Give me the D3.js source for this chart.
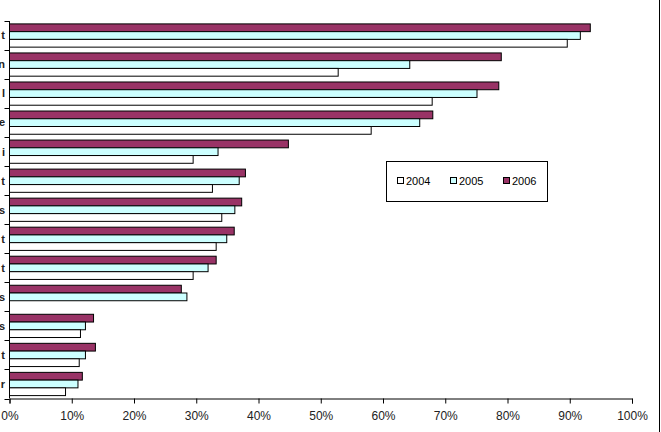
<!DOCTYPE html>
<html><head><meta charset="utf-8">
<script src="https://cdn.jsdelivr.net/npm/d3@7"></script>
<style>body{margin:0;background:#fff}svg{display:block}text{font-family:"Liberation Sans",Arial,sans-serif}</style>
</head><body><svg id="c" width="661" height="432"></svg>
<script>
const categories = ["t","n","l","e","i","t","s","t","t","s","s","t","r"];
const series = ["2006","2005","2004"];
const v2004 = [89.6, 52.8, 67.9, 58.1, 29.5, 32.6, 34.1, 33.2, 29.5, null, 11.4, 11.2, 9.0];
const v2005 = [91.7, 64.3, 75.1, 65.9, 33.5, 36.9, 36.2, 34.9, 31.9, 28.5, 12.2, 12.2, 11.0];
const v2006 = [93.3, 79.0, 78.6, 68.0, 44.8, 37.9, 37.3, 36.1, 33.2, 27.6, 13.5, 13.8, 11.7];
const xTicks = [0,10,20,30,40,50,60,70,80,90,100];
const colors = {"2004":"#ffffff","2005":"#ccffff","2006":"#993366"};
const values = {"2004":v2004,"2005":v2005,"2006":v2006};

(function(){
const svg = d3.select("#c");
const pLeft = 9.5, pRight = 632, pTop = 21, pBottom = 398.5;
const x = d3.scaleLinear().domain([0,100]).range([pLeft,pRight]);
const y = d3.scaleBand().domain(d3.range(categories.length)).range([pTop,pBottom]).paddingInner(0.2).paddingOuter(0.1);
const y1 = d3.scaleBand().domain(series).range([0,y.bandwidth()]);

const g = svg.append("g");
categories.forEach((c,i)=>{
  series.forEach(s=>{
    const v = values[s][i];
    if(v==null) return;
    g.append("rect")
      .attr("x", x(0)).attr("y", y(i)+y1(s))
      .attr("width", x(v)-x(0)).attr("height", y1.bandwidth())
      .attr("fill", colors[s]).attr("stroke","#000").attr("stroke-width",1);
  });
});

const xa = svg.append("g").attr("transform",`translate(0,${pBottom})`)
  .call(d3.axisBottom(x).tickValues(xTicks).tickFormat(d=>d+"%").tickSizeOuter(0).tickSize(5));
xa.select(".domain").attr("stroke","#000");
xa.selectAll(".tick line").attr("stroke","#000");
xa.selectAll("text").attr("font-size","12px").attr("fill","#222").attr("dy","1.1em");

svg.append("line").attr("x1",pLeft).attr("x2",pLeft).attr("y1",pTop).attr("y2",pBottom).attr("stroke","#000");
d3.range(categories.length+1).forEach(k=>{
  const yy = Math.round(pTop + k*(pBottom-pTop)/categories.length)+0.5;
  svg.append("line").attr("x1",pLeft-5).attr("x2",pLeft).attr("y1",yy).attr("y2",yy).attr("stroke","#000");
});
categories.forEach((c,i)=>{
  svg.append("text").attr("x",5).attr("y",y(i)+y.bandwidth()/2).attr("dy","0.35em")
    .attr("text-anchor","end").attr("font-size","11px").attr("font-weight","bold").attr("fill","#222").text(c);
});

svg.append("line").attr("x1",659.5).attr("x2",659.5).attr("y1",0).attr("y2",432).attr("stroke","#000");

const lg = svg.append("g");
lg.append("rect").attr("x",386.5).attr("y",161.5).attr("width",161).attr("height",40).attr("fill","#fff").attr("stroke","#000");
["2004","2005","2006"].forEach((s,i)=>{
  const lx = 397 + i*53;
  lg.append("rect").attr("x",lx+0.5).attr("y",177.5).attr("width",6).attr("height",6).attr("fill",colors[s]).attr("stroke","#000");
  lg.append("text").attr("x",lx+9).attr("y",185).attr("font-size","11px").attr("fill","#000").text(s);
});
})();
</script></body></html>
